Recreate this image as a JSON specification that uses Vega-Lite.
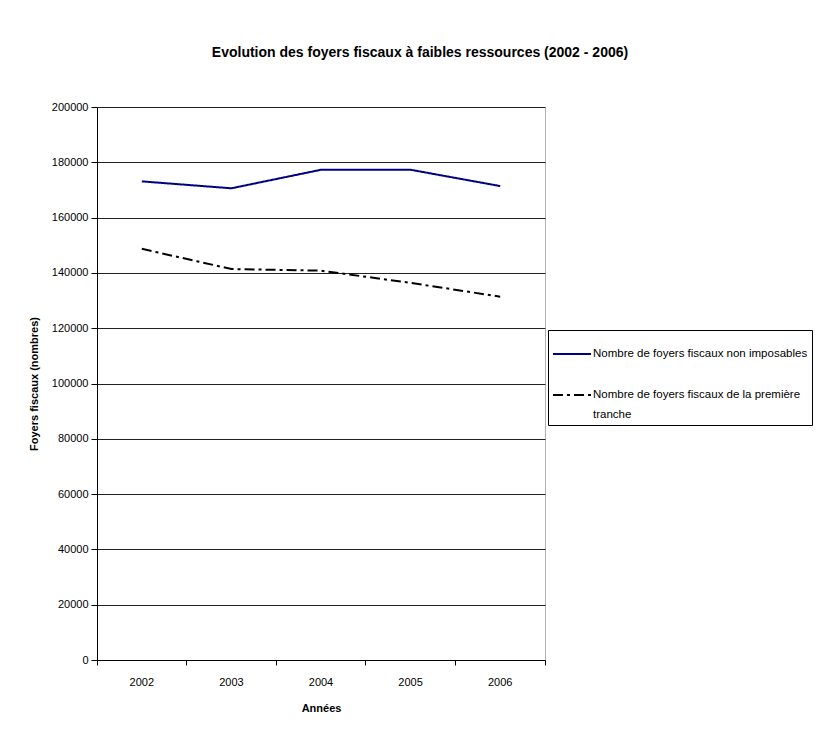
{
  "$schema": "https://vega.github.io/schema/vega-lite/v6.json",
  "width": 448,
  "height": 553,
  "autosize": "none",
  "padding": {"left": 97, "top": 107, "right": 271, "bottom": 73},
  "background": "white",
  "config": {
    "font": "Liberation Sans",
    "view": {"stroke": "#b0b0b0", "strokeWidth": 1},
    "style": {"guide-label": {"lineHeight": 20}}
  },
  "title": {
    "text": "Evolution des foyers fiscaux à faibles ressources (2002 - 2006)",
    "font": "Liberation Sans",
    "fontSize": 14,
    "fontWeight": "bold",
    "color": "#000",
    "anchor": "middle",
    "dx": 99,
    "offset": 41
  },
  "data": {
    "values": [
      {"annee": "2002", "serie": "Nombre de foyers fiscaux non imposables", "valeur": 173100},
      {"annee": "2003", "serie": "Nombre de foyers fiscaux non imposables", "valeur": 170600},
      {"annee": "2004", "serie": "Nombre de foyers fiscaux non imposables", "valeur": 177300},
      {"annee": "2005", "serie": "Nombre de foyers fiscaux non imposables", "valeur": 177300},
      {"annee": "2006", "serie": "Nombre de foyers fiscaux non imposables", "valeur": 171400},
      {"annee": "2002", "serie": "Nombre de foyers fiscaux de la première tranche", "valeur": 148700},
      {"annee": "2003", "serie": "Nombre de foyers fiscaux de la première tranche", "valeur": 141400},
      {"annee": "2004", "serie": "Nombre de foyers fiscaux de la première tranche", "valeur": 140800},
      {"annee": "2005", "serie": "Nombre de foyers fiscaux de la première tranche", "valeur": 136400},
      {"annee": "2006", "serie": "Nombre de foyers fiscaux de la première tranche", "valeur": 131400}
    ]
  },
  "mark": {"type": "line", "strokeWidth": 2},
  "encoding": {
    "x": {
      "field": "annee",
      "type": "ordinal",
      "scale": {"type": "band", "paddingInner": 0, "paddingOuter": 0},
      "axis": {
        "title": "Années",
        "titleFont": "Liberation Sans",
        "titleFontSize": 11,
        "titleFontWeight": "bold",
        "titleColor": "#000",
        "titlePadding": 15,
        "labelAngle": 0,
        "labelFont": "Liberation Sans",
        "labelFontSize": 11,
        "labelColor": "#000",
        "labelPadding": 11,
        "bandPosition": 1,
        "tickExtra": true,
        "labelOffset": 0,
        "tickSize": 5,
        "tickColor": "#000",
        "domainColor": "#000",
        "grid": false
      }
    },
    "y": {
      "field": "valeur",
      "type": "quantitative",
      "scale": {"domain": [0, 200000], "nice": false},
      "axis": {
        "title": "Foyers fiscaux (nombres)",
        "titleFont": "Liberation Sans",
        "titleFontSize": 11,
        "titleFontWeight": "bold",
        "titleColor": "#000",
        "titlePadding": 12,
        "values": [0, 20000, 40000, 60000, 80000, 100000, 120000, 140000, 160000, 180000, 200000],
        "format": "d",
        "labelFont": "Liberation Sans",
        "labelFontSize": 11,
        "labelColor": "#000",
        "labelPadding": 3,
        "tickSize": 6,
        "tickColor": "#000",
        "domainColor": "#000",
        "grid": true,
        "gridColor": "#222",
        "gridOpacity": 1
      }
    },
    "color": {
      "field": "serie",
      "type": "nominal",
      "scale": {
        "domain": ["Nombre de foyers fiscaux non imposables", "Nombre de foyers fiscaux de la première tranche"],
        "range": ["#000080", "#000000"]
      },
      "legend": {
        "title": null,
        "orient": "none",
        "legendX": 451,
        "legendY": 223,
        "strokeColor": "#000",
        "padding": 4,
        "symbolType": "stroke",
        "symbolSize": 1444,
        "symbolStrokeWidth": 2,
        "labelFont": "Liberation Sans",
        "labelFontSize": 11.5,
        "labelColor": "#000",
        "labelLimit": 300,
        "labelOffset": 1,
        "rowPadding": 15,
        "labelExpr": "datum.label == 'Nombre de foyers fiscaux de la première tranche' ? ['Nombre de foyers fiscaux de la première', 'tranche'] : datum.label"
      }
    },
    "strokeDash": {
      "field": "serie",
      "type": "nominal",
      "scale": {
        "domain": ["Nombre de foyers fiscaux non imposables", "Nombre de foyers fiscaux de la première tranche"],
        "range": [[1, 0], [10, 4, 3, 4]]
      },
      "legend": null
    }
  }
}
